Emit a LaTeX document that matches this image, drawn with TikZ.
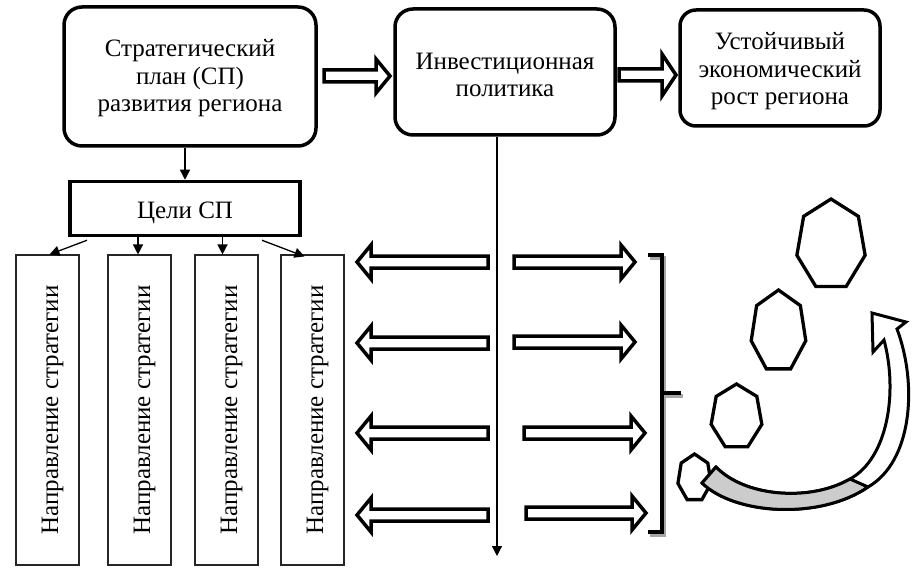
\documentclass[tikz,border=0pt]{standalone}
\usepackage{fontspec}
\setmainfont{Liberation Serif}
\usetikzlibrary{arrows.meta,calc}
\newcommand{\RBA}[4]{\draw[blockarr] (#1,{#3-6}) -- ({#2-14},{#3-6}) -- ({#2-14},{#3-#4}) -- (#2,#3) -- ({#2-14},{#3+#4}) -- ({#2-14},{#3+6}) -- (#1,{#3+6}) -- cycle;}
\newcommand{\LBA}[4]{\draw[blockarr] (#1,{#3-6}) -- ({#2+14},{#3-6}) -- ({#2+14},{#3-#4}) -- (#2,#3) -- ({#2+14},{#3+#4}) -- ({#2+14},{#3+6}) -- (#1,{#3+6}) -- cycle;}
\newcommand{\hept}[4]{\draw[hepta] ({#1+#3*cos(90)},{#2-#4*sin(90)}) \foreach \k in {1,...,6} { -- ({#1+#3*cos(90+\k*360/7)},{#2-#4*sin(90+\k*360/7)}) } -- cycle;}
\begin{document}
\begin{tikzpicture}[x=1pt,y=-1pt,
  txt/.style={font=\fontsize{25}{27.5}\selectfont},
  bigbox/.style={draw, line width=3.5pt, rounded corners=18pt, inner sep=0pt},
  boxtext/.style={txt, align=center},
  goalbox/.style={txt, draw, line width=3.5pt, inner sep=0pt, text height=19.6pt, text depth=0pt},
  vbox/.style={txt, draw=black!85, line width=1.1pt, rotate=90, inner sep=0pt, minimum width=310pt, minimum height=63pt, text height=21pt, text depth=0pt},
  tarrow/.style={line width=1.3pt, -{Triangle[length=10pt,width=10pt]}},
  blockarr/.style={draw, line width=3.5pt, fill=white, line join=miter},
  hepta/.style={draw, line width=3.3pt, fill=white, line join=miter},
  bracket/.style={line width=4.5pt, line join=miter}]
\useasboundingbox (0,0) rectangle (919,583);

% top boxes
\node[bigbox, minimum width=252pt, minimum height=139pt,
  label={[boxtext, yshift=-2pt]center:{Стратегический\\план (СП)\\развития региона}}] (sp) at (190,76.5) {};
\node[bigbox, minimum width=220pt, minimum height=126pt,
  label={[boxtext, yshift=-3pt]center:{Инвестиционная\\политика}}] (inv) at (505,72) {};
\node[bigbox, minimum width=200pt, minimum height=116pt, rounded corners=16pt,
  label={[boxtext, yshift=-3.5pt]center:{Устойчивый\\экономический\\рост региона}}] (gr) at (780,68) {};

% block arrows top
\RBA{324}{390}{76}{17}
\RBA{619}{676}{75}{21}

% goals
\node[goalbox, minimum width=230pt, minimum height=54pt] (c) at (185,208.5) {Цели СП};
\draw[tarrow] (sp.south -| c.north) -- (c.north);

% strategy directions
\node[vbox] (d1) at (47.5,410) {Направление стратегии};
\node[vbox] (d2) at (139.5,410) {Направление стратегии};
\node[vbox] (d3) at (226.5,410) {Направление стратегии};
\node[vbox] (d4) at (312.5,410) {Направление стратегии};

\draw[tarrow] ([xshift=-98pt,yshift=-3pt]c.south) -- ([xshift=2pt]d1.east);
\draw[tarrow] ([xshift=-1.5pt]c.south -| d2.east) -- ([xshift=-1.5pt]d2.east);
\draw[tarrow] ([xshift=-4pt]c.south -| d3.east) -- ([xshift=-4pt]d3.east);
\draw[tarrow] ([xshift=77pt,yshift=-3pt]c.south) -- ([xshift=-8pt,yshift=-2pt]d4.east);

% vertical investment line
\coordinate (vend) at (497,556);
\draw[tarrow, line width=1.2pt] ([xshift=-8pt]inv.south) -- (vend);

% horizontal block arrows
\LBA{488}{357}{262}{17}
\LBA{488}{357}{343}{17}
\LBA{488}{357}{433}{17}
\LBA{488}{357}{515}{17}
\RBA{514}{635}{262}{17}
\RBA{514}{635}{342}{17}
\RBA{524}{645}{433}{17}
\RBA{526}{646}{513}{17}

% bracket with shadow
\begin{scope}[shift={(2,3)}]
\draw[bracket, black!35] (648,255) -- (662,255) -- (662,532) -- (648,532);
\draw[bracket, black!35] (662,393) -- (681,393);
\end{scope}
\draw[bracket] (648,255) -- (662,255) -- (662,532) -- (648,532);
\draw[bracket] (662,393) -- (681,393);

% heptagons
\hept{831}{245}{35}{46}
\hept{778.5}{331.5}{28}{41.5}
\hept{736.5}{417}{26}{33}
\hept{694.5}{478}{17}{24}

% curved arrow
\draw[line width=3pt, fill=white, line join=miter]
  (872,313) -- (906,322) -- (897,329)
  .. controls (918,385) and (912,462) .. (868,487)
  .. controls (820,520) and (735,515) .. (702,483)
  -- (716,467)
  .. controls (745,497) and (810,502) .. (850,479)
  .. controls (888,458) and (898,392) .. (884,340)
  -- (873,352) -- cycle;
\draw[line width=3pt, fill=black!20, line join=round]
  (702,483) .. controls (735,515) and (820,520) .. (868,487)
  -- (850,479) .. controls (810,502) and (745,497) .. (716,467) -- cycle;
\end{tikzpicture}
\end{document}
